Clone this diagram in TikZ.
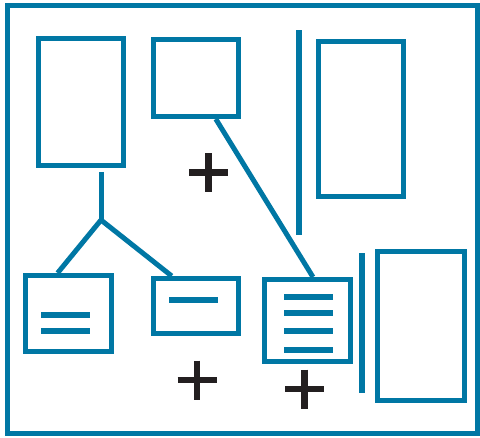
\documentclass[tikz,border=0pt]{standalone}
\usetikzlibrary{calc}
\definecolor{skBlue}{HTML}{0077A4}
\definecolor{skInk}{HTML}{231F20}
\begin{document}
\begin{tikzpicture}[
  x=0.02cm,y=-0.02cm,
  frame/.style={draw=skBlue,line width=0.1cm},
  card/.style={draw=skBlue,line width=0.1cm,inner sep=0pt,fill=white},
  wire/.style={draw=skBlue,line width=0.1cm},
  bar/.style={draw=skBlue,line width=0.12cm},
  plus/.style={draw=skInk,line width=0.13cm}
]
\path[use as bounding box] (0,0) rectangle (480,437);
\draw[frame] (7.5,5) rectangle (477,433.5);
% top row
\node[card,minimum width=1.7cm,minimum height=2.54cm] (sheet) at (81,102) {};
\node[card,minimum width=1.7cm,minimum height=1.54cm] (note) at (196,78) {};
\node[card,minimum width=1.7cm,minimum height=3.1cm] (page) at (361,119) {};
% bottom row
\node[card,minimum width=1.72cm,minimum height=1.52cm] (pair) at (68.5,313.5) {};
\node[card,minimum width=1.7cm,minimum height=1.1cm] (single) at (196,306) {};
\node[card,minimum width=1.72cm,minimum height=1.64cm] (list) at (307.5,320.5) {};
\node[card,minimum width=1.74cm,minimum height=2.98cm] (panel) at (421,326) {};
% lines inside the cards
\foreach \y in {315,331} \draw[bar] (41,\y) -- (90,\y);
\draw[bar] (169,300) -- (218,300);
\foreach \y in {297,313,331,350} \draw[bar] (284,\y) -- (333,\y);
% separators
\draw[bar] (299,30) -- (299,235);
\draw[bar] (362,253) -- (362,393);
% tree
\coordinate (fork) at (101,220);
\draw[wire,shorten <=0.08cm] (sheet.south -| fork) -- (fork);
\draw[wire] (fork) -- ($(pair.north west)!0.38!(pair.north east)$);
\draw[wire] (fork) -- ($(single.north west)!0.23!(single.north east)$);
\draw[wire] ($(note.south west)!0.72!(note.south east)$) -- ($(list.north west)!0.56!(list.north east)$);
% plus signs
\foreach \x/\y in {208.5/172.5,197/380,304.5/389}
  \draw[plus] (\x-19.5,\y) -- (\x+19.5,\y) (\x,\y-19.5) -- (\x,\y+19.5);
\end{tikzpicture}
\end{document}
